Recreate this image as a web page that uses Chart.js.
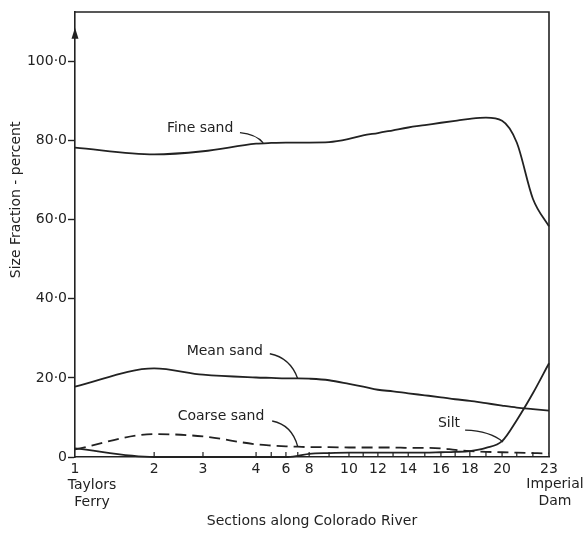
<!DOCTYPE html>
<html>
<head>
<meta charset="utf-8">
<script src="https://cdn.jsdelivr.net/npm/chart.js@4/dist/chart.umd.min.js"></script>
<style>
  html, body { margin: 0; padding: 0; background: #ffffff; }
  #wrap { width: 585px; height: 535px; }
</style>
</head>
<body>
<div id="wrap"><canvas id="c" width="585" height="535"></canvas></div>
<script>
// ---- data ----
const sections = [1,2,3,4,5,6,7,8,9,10,11,12,13,14,15,16,17,18,19,20,21,22,23];
// relative position of each section along the river (0 = Taylors Ferry, 100 = Imperial Dam)
const sectionPos = [0,16.7,27.0,38.2,41.4,44.5,47.0,49.4,53.6,57.8,60.8,63.9,67.1,70.3,73.8,77.2,80.2,83.3,86.7,90.1,93.2,96.6,100];
const labeledSections = [1,2,3,4,6,8,10,12,14,16,18,20,23];
const firstSectionName = ["Taylors","Ferry"];
const lastSectionName = ["Imperial","Dam"];

const fineSand   = [78.2,76.5,77.3,79.2,79.4,79.5,79.5,79.5,79.6,80.4,81.3,81.9,82.6,83.3,83.9,84.5,85.0,85.5,85.8,85.0,79.5,65.3,58.3];
const meanSand   = [17.8,22.4,20.8,20.1,20.0,19.9,19.9,19.8,19.4,18.5,17.8,17.0,16.6,16.1,15.6,15.1,14.6,14.2,13.6,13.0,12.5,12.1,11.7];
const coarseSand = [1.9,5.8,5.2,3.2,2.9,2.7,2.6,2.5,2.5,2.4,2.4,2.4,2.4,2.3,2.3,2.2,1.8,1.5,1.3,1.2,1.1,1.0,0.9];
const silt       = [2.2,0,0,0,0,0,0.3,0.8,1.0,1.1,1.1,1.1,1.1,1.1,1.1,1.2,1.3,1.5,2.3,4.0,9.3,16.1,23.7];

const yTickValues = [0,20,40,60,80,100];
const yMax = 112.5;
const yTitle = 'Size Fraction - percent';
const xTitle = 'Sections along Colorado River';

// curve labels: text position in data units, with leader [x0,y0,cx,cy,x1,y1]
const curveLabels = [
  {text: "Fine sand",   x: 26.4, y: 83.0, leader: [34.8, 82.0, 38.2, 81.6, 39.7, 79.4]},
  {text: "Mean sand",   x: 31.6, y: 26.8, leader: [41.1, 26.1, 45.4, 25.1, 47.0, 19.8]},
  {text: "Coarse sand", x: 30.8, y: 10.4, leader: [41.6, 9.1, 45.8, 8.1, 47.0, 2.6]},
  {text: "Silt",        x: 78.9, y: 8.4,  leader: [82.3, 6.8, 87.6, 6.6, 90.3, 3.8]}
];

const INK = "#222222";
const FONT = "'DejaVu Sans', sans-serif";

function pts(vals) { return vals.map((v, i) => ({x: sectionPos[i], y: v})); }

const decor = {
  id: 'decor',
  afterDraw(chart) {
    const ctx = chart.ctx;
    const xs = chart.scales.x, ys = chart.scales.y;
    const a = chart.chartArea;
    ctx.save();
    ctx.strokeStyle = INK;
    ctx.fillStyle = INK;
    ctx.lineWidth = 1.6;
    // frame top and right
    ctx.beginPath();
    ctx.moveTo(a.left, a.top);
    ctx.lineTo(a.right, a.top);
    ctx.lineTo(a.right, a.bottom);
    ctx.stroke();
    // arrow on y axis
    const ax = xs.getPixelForValue(0);
    const tipY = ys.getPixelForValue(108.5);
    ctx.beginPath();
    ctx.moveTo(ax, tipY);
    ctx.lineTo(ax - 3.5, tipY + 11);
    ctx.lineTo(ax + 3.5, tipY + 11);
    ctx.closePath();
    ctx.fill();
    // inward tick marks on x axis
    ctx.lineWidth = 1.2;
    xs.ticks.forEach(t => {
      if (t.value <= 0 || t.value >= 100) return;
      const px = xs.getPixelForValue(t.value);
      ctx.beginPath();
      ctx.moveTo(px, a.bottom);
      ctx.lineTo(px, a.bottom - 5);
      ctx.stroke();
    });
    ctx.font = "14px " + FONT;
    ctx.textAlign = "center";
    ctx.textBaseline = "middle";
    // end-section names under the first and last section numbers
    const x0 = xs.getPixelForValue(sectionPos[0]) + 17;
    const x1 = xs.getPixelForValue(sectionPos[sectionPos.length - 1]) + 6;
    firstSectionName.forEach((s, i) => ctx.fillText(s, x0, a.bottom + 28 + i * 17));
    lastSectionName.forEach((s, i) => ctx.fillText(s, x1, a.bottom + 27 + i * 17));
    // curve labels with leaders
    ctx.lineWidth = 1.3;
    curveLabels.forEach(l => {
      ctx.fillText(l.text, xs.getPixelForValue(l.x), ys.getPixelForValue(l.y));
      const [lx0,ly0,cx,cy,lx1,ly1] = l.leader;
      ctx.beginPath();
      ctx.moveTo(xs.getPixelForValue(lx0), ys.getPixelForValue(ly0));
      ctx.quadraticCurveTo(xs.getPixelForValue(cx), ys.getPixelForValue(cy),
                           xs.getPixelForValue(lx1), ys.getPixelForValue(ly1));
      ctx.stroke();
    });
    // y axis title (sits above the axis centre in the original)
    ctx.save();
    ctx.translate(16, ys.getPixelForValue(65));
    ctx.rotate(-Math.PI / 2);
    ctx.fillText(yTitle, 0, 0);
    ctx.restore();
    ctx.restore();
  }
};

const lineStyle = {
  borderColor: INK, borderWidth: 1.8, pointRadius: 0, fill: false,
  cubicInterpolationMode: 'monotone', clip: false
};

new Chart(document.getElementById('c'), {
  type: 'line',
  data: {
    datasets: [
      Object.assign({label: 'Fine sand', data: pts(fineSand)}, lineStyle),
      Object.assign({label: 'Mean sand', data: pts(meanSand)}, lineStyle),
      Object.assign({label: 'Coarse sand', data: pts(coarseSand), borderDash: [11, 6]}, lineStyle),
      Object.assign({label: 'Silt', data: pts(silt)}, lineStyle)
    ]
  },
  options: {
    responsive: false,
    devicePixelRatio: 1,
    animation: false,
    layout: {padding: {left: 0, top: 12, right: 36, bottom: 0}},
    plugins: {legend: {display: false}, tooltip: {enabled: false}},
    scales: {
      x: {
        type: 'linear', min: 0, max: 100,
        afterFit(s) { s.height = 78; },
        afterBuildTicks(s) { s.ticks = sectionPos.map(v => ({value: v})); },
        grid: {drawOnChartArea: false, drawTicks: false},
        border: {display: true, color: INK, width: 1.6},
        ticks: {
          autoSkip: false, maxRotation: 0, minRotation: 0, padding: 4,
          color: INK, font: {family: FONT, size: 14},
          callback(value) {
            const i = sectionPos.indexOf(value);
            if (i < 0) return '';
            const s = sections[i];
            return labeledSections.includes(s) ? String(s) : '';
          }
        },
        title: {
          display: true, text: xTitle, color: INK,
          font: {family: FONT, size: 14}, padding: {top: 0, bottom: 5}
        }
      },
      y: {
        type: 'linear', min: 0, max: yMax,
        afterFit(s) { s.width = 75; },
        afterBuildTicks(s) { s.ticks = yTickValues.map(v => ({value: v})); },
        grid: {drawOnChartArea: false, drawTicks: true, tickLength: 7, tickColor: INK, tickWidth: 1.4},
        border: {display: true, color: INK, width: 1.6},
        ticks: {
          padding: 1, color: INK, font: {family: FONT, size: 14},
          callback(v) { return v === 0 ? '0' : v.toFixed(1).replace('.', '\u00B7'); }
        },
        title: {display: false}
      }
    }
  },
  plugins: [decor]
});
</script>
</body>
</html>
